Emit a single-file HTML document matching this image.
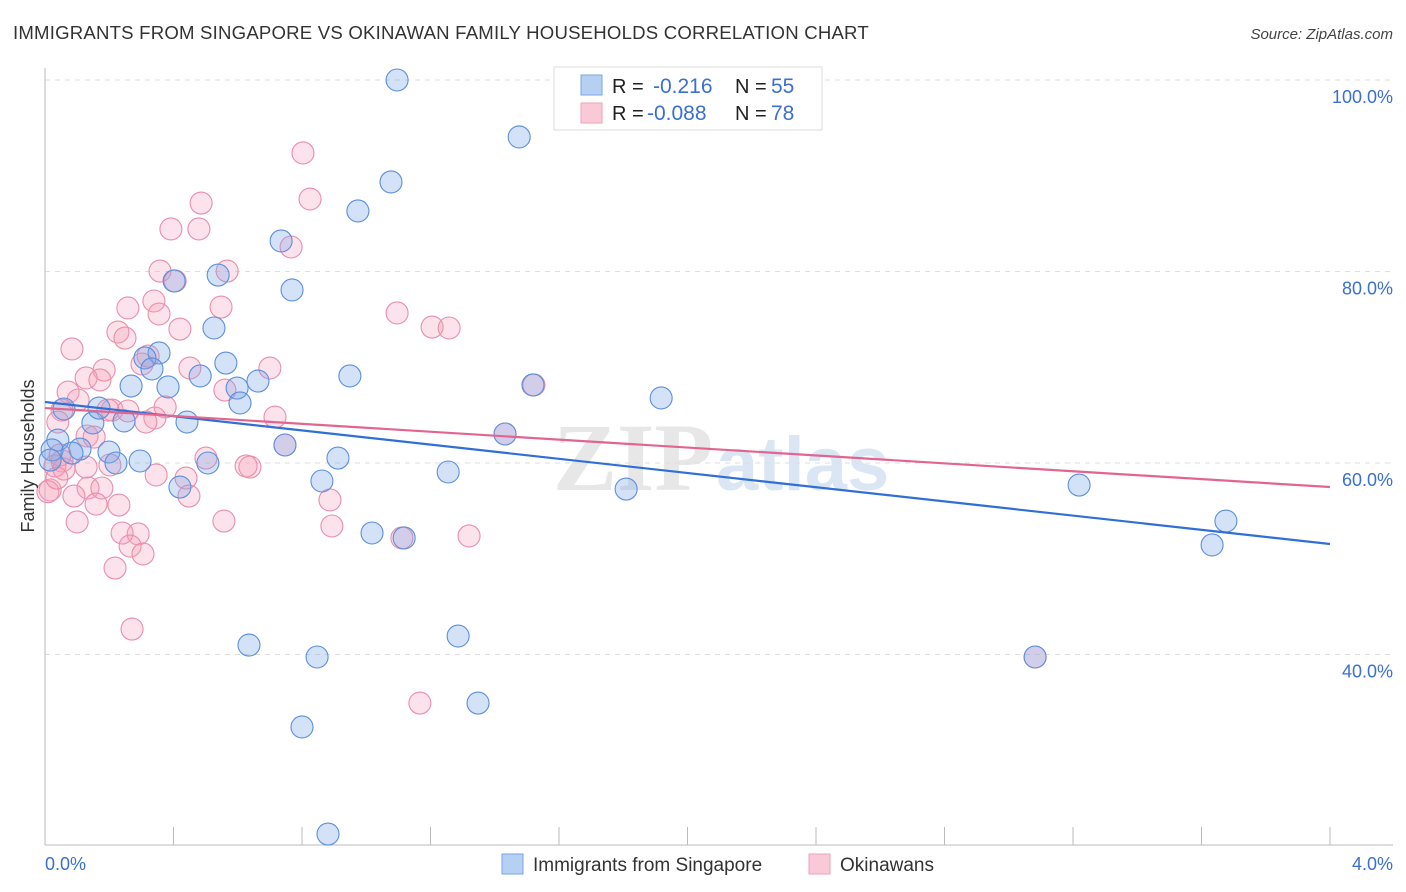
<!DOCTYPE html>
<html><head><meta charset="utf-8"><style>
body{margin:0;background:#fff;font-family:"Liberation Sans",sans-serif;}
svg{display:block}
</style></head><body>
<svg id="chart" width="1406" height="892" viewBox="0 0 1406 892" xmlns="http://www.w3.org/2000/svg">
<text x="13" y="39" font-size="18.6" letter-spacing="0.2" fill="#333">IMMIGRANTS FROM SINGAPORE VS OKINAWAN FAMILY HOUSEHOLDS CORRELATION CHART</text>
<text x="1393" y="39" font-size="15" fill="#444" font-style="italic" text-anchor="end">Source: ZipAtlas.com</text>
<g opacity="0.5">
<text x="553" y="490" font-size="96" font-family="Liberation Serif,serif" fill="#d0d0d0" font-weight="bold">ZIP</text>
<text x="716" y="490" font-size="76" fill="#b9cfea" font-weight="bold">atlas</text>
</g>
<g id="grid"></g>
<g id="axes"></g>
<g id="points"></g>
<g id="lines"></g>
<text transform="translate(34,456) rotate(-90)" font-size="18" fill="#333" text-anchor="middle">Family Households</text>
<g>
<rect x="554" y="67" width="268" height="63" fill="#fff" stroke="#ddd"/>
<rect x="581" y="75" width="21" height="20" fill="#b6d0f3" stroke="#7aa5e6"/>
<rect x="581" y="103" width="21" height="20" fill="#f9c9d7" stroke="#eea3bb"/>
<text x="612" y="93" font-size="20" fill="#222">R =</text>
<text x="653" y="93" font-size="21" fill="#3b6fd1">-0.216</text>
<text x="735" y="93" font-size="20" fill="#222">N =</text>
<text x="771" y="93" font-size="21" fill="#3b6fd1">55</text>
<text x="612" y="120" font-size="20" fill="#222">R =</text>
<text x="647" y="120" font-size="21" fill="#3b6fd1">-0.088</text>
<text x="735" y="120" font-size="20" fill="#222">N =</text>
<text x="771" y="120" font-size="21" fill="#3b6fd1">78</text>
</g>
<g>
<rect x="502" y="854" width="21" height="20" fill="#b6d0f3" stroke="#7aa5e6"/>
<text x="533" y="871" font-size="19" fill="#333">Immigrants from Singapore</text>
<rect x="809" y="854" width="21" height="20" fill="#f9c9d7" stroke="#eea3bb"/>
<text x="840" y="871" font-size="19" fill="#333">Okinawans</text>
</g>
</svg>
<script>
const blueX=[1.096,1.476,1.077,.974,.735,.769,.539,.402,.526,.355,.311,.333,.563,.483,.383,.268,.598,.663,.607,.949,1.519,1.918,.442,.246,.149,.168,.059,.040,.109,.199,.221,.296,.507,.747,.912,.862,1.255,.420,1.809,3.219,3.676,3.633,1.018,1.118,1.432,.635,.847,1.286,.800,1.348,.881,3.082,.022,.016,.084];
const blueY=[100.0,94.05,89.35,86.32,83.19,78.07,79.63,79.01,74.10,71.49,70.97,69.82,70.44,69.09,67.94,68.04,67.83,68.56,66.27,69.09,68.15,66.79,64.28,64.39,64.18,65.74,65.64,62.40,61.46,61.15,60.00,60.21,60.00,61.88,60.52,58.12,59.06,57.49,57.28,57.70,53.94,51.44,52.69,52.17,63.03,40.99,39.74,41.93,32.43,34.93,21.25,39.74,61.36,60.31,61.04];
const pinkX=[.803,.825,.486,.392,.479,.766,.358,.567,.405,.339,.258,.548,.355,.420,1.096,1.205,1.258,.227,.249,.084,.321,.302,.451,.700,.184,.128,.171,.072,.103,.560,1.522,.374,.209,.258,.196,.053,.040,.342,.314,.716,.131,.153,.747,.501,.638,.128,.053,.031,.439,.346,.134,.177,.090,.448,.887,.230,.159,.016,.009,.100,.557,.893,1.320,1.111,.240,.290,.265,.305,.218,.271,1.167,3.082,1.432,.059,.047,.037,.626,.202];
const pinkY=[92.38,87.57,87.15,84.44,84.44,82.56,80.05,80.05,79.01,76.92,76.19,76.29,75.56,73.99,75.67,74.20,74.10,73.68,73.05,71.91,71.17,70.34,69.92,69.92,69.71,68.88,68.67,67.41,66.58,67.62,68.15,65.85,65.53,65.43,65.53,65.53,64.28,64.70,64.28,64.80,62.82,62.71,61.88,60.52,59.58,59.58,60.21,59.69,58.43,58.75,57.39,57.39,56.55,56.55,56.14,55.61,55.71,57.18,57.0,53.84,53.94,53.42,52.38,52.17,52.69,52.59,51.33,50.50,49.03,42.66,34.93,39.74,63.03,59.37,60.84,58.43,59.69,59.79];
const trendBlue=[66.37,51.54];
const trendPink=[65.74,57.49];
const yTicks=[100,80,60,40];
const yTickLabels=["100.0%","80.0%","60.0%","40.0%"];
const xTickLabels=["0.0%","4.0%"];
const NS="http://www.w3.org/2000/svg";
const sx=v=>45+v/4*1285;
const sy=v=>80+(100-v)*9.575;
function mk(tag,attrs,parent){const e=document.createElementNS(NS,tag);for(const k in attrs)e.setAttribute(k,attrs[k]);document.getElementById(parent).appendChild(e);return e;}
yTicks.forEach((t,i)=>{
  const g=mk('line',{x1:45,x2:1393,y1:sy(t),y2:sy(t),stroke:'#ddd','stroke-dasharray':'5,5'},'grid');
  
  
  const tx=mk('text',{x:1393,y:sy(t)+23,'font-size':18,fill:'#3b6fd1','text-anchor':'end'},'axes');
  tx.textContent=yTickLabels[i];
  
  
});
const ya=mk('line',{x1:45,x2:45,y1:68,y2:845,stroke:'#bbb'},'axes');


const xa=mk('line',{x1:45,x2:1393,y1:845,y2:845,stroke:'#bbb'},'axes');


for(let k=0;k<=10;k++){
  const t=mk('line',{x1:sx(k*0.4),x2:sx(k*0.4),y1:827,y2:845,stroke:'#bbb'},'axes');
  
  
}
[[0,'start',45],[1,'end',1393]].forEach(([i,a,x])=>{
  const t=mk('text',{x:x,y:870,'font-size':18,fill:'#3b6fd1','text-anchor':a},'axes');
  t.textContent=xTickLabels[i];
  
  
});
pinkX.forEach((x,i)=>{
  const c=mk('circle',{cx:sx(x),cy:sy(pinkY[i]),r:11,fill:'rgba(244,160,186,0.3)',stroke:'#ea8eab','stroke-width':1.1},'points');
  
  
});
blueX.forEach((x,i)=>{
  const c=mk('circle',{cx:sx(x),cy:sy(blueY[i]),r:11,fill:'rgba(120,165,230,0.32)',stroke:'#5b8fdf','stroke-width':1.1},'points');
  
  
});
const lb=mk('line',{x1:sx(0),y1:sy(trendBlue[0]),x2:sx(4),y2:sy(trendBlue[1]),stroke:'#2f6fd6','stroke-width':2.2},'lines');


const lp=mk('line',{x1:sx(0),y1:sy(trendPink[0]),x2:sx(4),y2:sy(trendPink[1]),stroke:'#e2658f','stroke-width':2.2},'lines');


</script>
</body></html>
